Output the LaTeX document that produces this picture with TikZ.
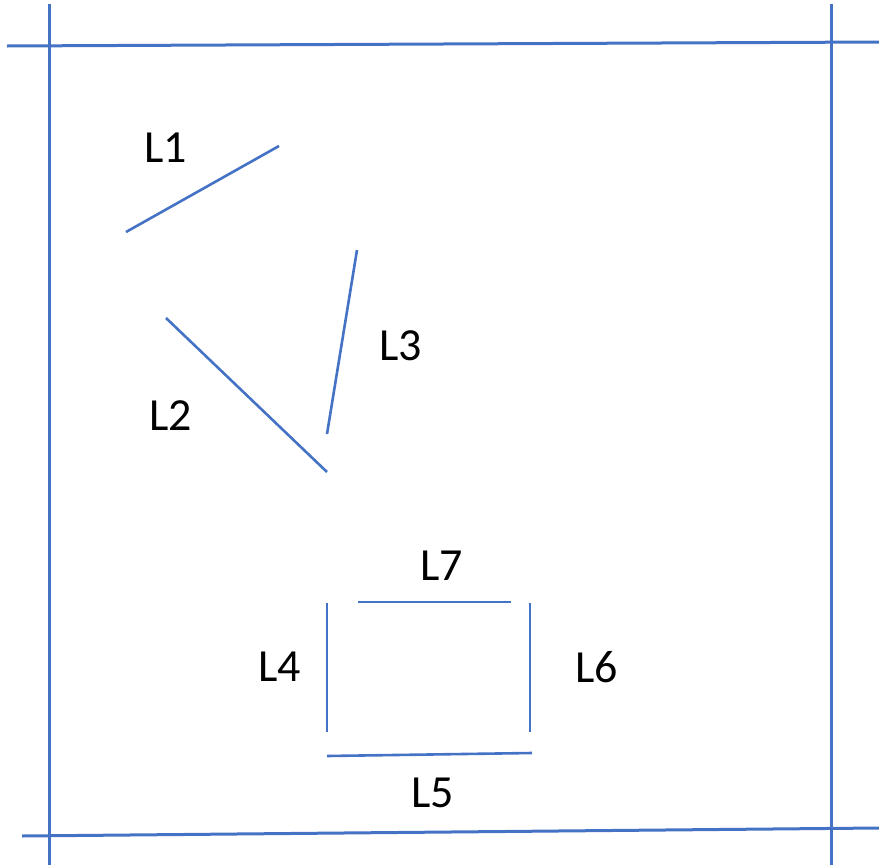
\documentclass[tikz,border=0pt]{standalone}
\usepackage{fontspec}
\setmainfont{Carlito}
\definecolor{lblue}{HTML}{4472C4}
\begin{document}
\begin{tikzpicture}[x=1pt,y=-1pt,
  seg/.style={draw=lblue,line width=2.6pt},
  border/.style={draw=lblue,line width=3pt},
  lbl/.style={font=\fontsize{46}{55}\selectfont,inner sep=0pt,anchor=center}]
\useasboundingbox (0,0) rectangle (879,865);
% border lines
\coordinate (lt) at (49,4);   \coordinate (lb) at (49,865);
\coordinate (rt) at (831,4);  \coordinate (rb) at (831,865);
\coordinate (tl) at (7,46);   \coordinate (tr) at (879,42);
\coordinate (bl) at (22,836); \coordinate (br) at (879,828);
\draw[border] (lt) -- (lb);
\draw[border] (rt) -- (rb);
\draw[border] (tl) -- (tr);
\draw[border] (bl) -- (br);
% segments
\coordinate (a1) at (126,232); \coordinate (b1) at (279,146);
\coordinate (a2) at (166,318); \coordinate (b2) at (327,472);
\coordinate (a3) at (357,250); \coordinate (b3) at (327,434);
\coordinate (a4) at (327,603); \coordinate (b4) at (327,732);
\coordinate (a5) at (327,756); \coordinate (b5) at (532,753);
\coordinate (a6) at (530,603); \coordinate (b6) at (530,732);
\coordinate (a7) at (358,602); \coordinate (b7) at (511,602);
\draw[seg] (a1) -- (b1);
\draw[seg] (a2) -- (b2);
\draw[seg] (a3) -- (b3);
\draw[seg] (a4) -- (b4);
\draw[seg] (a5) -- (b5);
\draw[seg] (a6) -- (b6);
\draw[seg] (a7) -- (b7);
% labels
\node[lbl] (t1) at (166,148) {L1};
\node[lbl] (t2) at (171,416) {L2};
\node[lbl] (t3) at (401,346) {L3};
\node[lbl] (t4) at (280,667) {L4};
\node[lbl] (t5) at (433,793) {L5};
\node[lbl] (t6) at (597,667) {L6};
\node[lbl] (t7) at (442,566) {L7};
\end{tikzpicture}
\end{document}
